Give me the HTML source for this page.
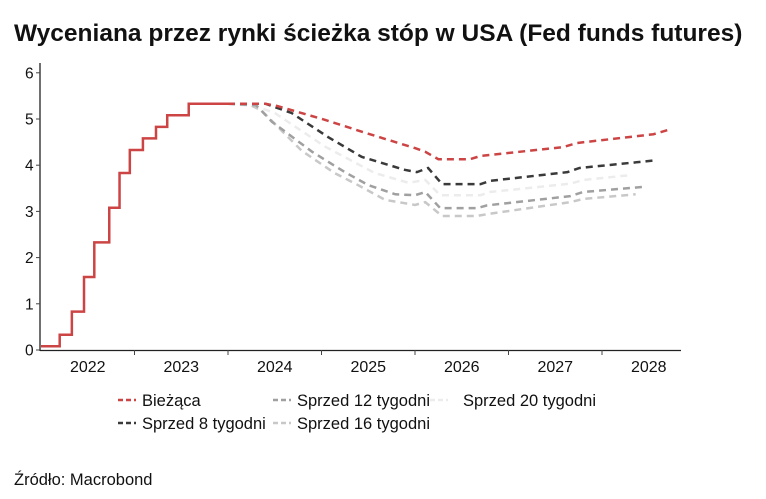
<!DOCTYPE html>
<html><head><meta charset="utf-8"><style>
body{margin:0;background:#fff;font-family:"Liberation Sans",sans-serif;}
#wrap{position:relative;width:766px;height:499px;overflow:hidden}
</style></head><body>
<div id="wrap">
<svg id="chart" width="766" height="499" xmlns="http://www.w3.org/2000/svg">
<text x="14" y="41" font-size="24.5" font-weight="bold" fill="#111" font-family="Liberation Sans, sans-serif">Wyceniana przez rynki ścieżka stóp w USA (Fed funds futures)</text>
<text x="14" y="485" font-size="16.5" fill="#111" font-family="Liberation Sans, sans-serif">Źródło: Macrobond</text>
<g id="axes"></g><g id="series"></g><g id="legend"></g>
</svg>
</div>
<script>
const yTicks=[0,1,2,3,4,5,6];
const yearLabels=["2022","2023","2024","2025","2026","2027","2028"];
const currT=[2022.0,2022.2,2022.33,2022.46,2022.57,2022.73,2022.84,2022.95,2023.09,2023.23,2023.35,2023.58,2024.0];
const currV=[0.08,0.33,0.83,1.58,2.33,3.08,3.83,4.33,4.58,4.83,5.08,5.33,5.33];
const redT=[2024.0,2024.4,2024.53,2025.04,2025.47,2026.0,2026.11,2026.25,2026.59,2026.7,2027.58,2027.73,2028.55,2028.7];
const redV=[5.33,5.33,5.28,4.98,4.7,4.37,4.29,4.13,4.13,4.2,4.39,4.48,4.67,4.76];
const w8T=[2024.0,2024.4,2024.68,2025.07,2025.43,2025.89,2026.02,2026.14,2026.29,2026.7,2026.8,2027.63,2027.76,2028.55];
const w8V=[5.33,5.33,5.13,4.61,4.18,3.9,3.85,3.94,3.59,3.59,3.66,3.85,3.94,4.1];
const w12T=[2024.0,2024.3,2024.47,2024.9,2025.25,2025.5,2025.79,2026.0,2026.11,2026.27,2026.66,2026.77,2027.66,2027.8,2028.44];
const w12V=[5.33,5.3,4.94,4.29,3.85,3.57,3.37,3.35,3.42,3.07,3.07,3.13,3.33,3.42,3.53];
const w16T=[2024.0,2024.24,2024.36,2024.79,2025.14,2025.39,2025.68,2026.0,2026.11,2026.29,2026.66,2026.8,2027.66,2027.8,2028.36];
const w16V=[5.33,5.3,5.18,4.31,3.83,3.57,3.25,3.14,3.2,2.9,2.9,2.95,3.2,3.27,3.37];
const w20T=[2024.0,2024.29,2024.5,2025.04,2025.57,2025.93,2026.11,2026.27,2026.7,2026.8,2027.66,2027.8,2028.28];
const w20V=[5.33,5.28,5.13,4.4,3.83,3.62,3.68,3.35,3.35,3.42,3.6,3.68,3.78];

const NS="http://www.w3.org/2000/svg";
const X0=41,PX=93.5,Y0=350,PY=46.2;
function xs(t){return X0+(t-2022)*PX;}
function ys(v){return Y0-v*PY;}
function mk(tag,attrs,parent){const e=document.createElementNS(NS,tag);for(const k in attrs)e.setAttribute(k,attrs[k]);parent.appendChild(e);return e;}
const axes=document.getElementById('axes');
let a=mk('line',{x1:40,y1:63,x2:40,y2:351,stroke:'#222','stroke-width':1.3},axes);


a=mk('line',{x1:40,y1:350.5,x2:681,y2:350.5,stroke:'#222','stroke-width':1.3},axes);


yTicks.forEach(v=>{
  const tk=mk('line',{x1:36,x2:40,y1:ys(v),y2:ys(v),stroke:'#444'},axes);
  
  
  const tx=mk('text',{x:25,y:ys(v)+5.5,'font-size':15.5,fill:'#111','font-family':'Liberation Sans, sans-serif'},axes);
  tx.textContent=v;
  
  
});
yearLabels.forEach((l,i)=>{
  const y=2022+i;
  if(i>0){const tk=mk('line',{x1:xs(y),x2:xs(y),y1:350,y2:355,stroke:'#444'},axes);
  
  }
  const tx=mk('text',{x:xs(y+0.5),y:372,'font-size':16,fill:'#111','text-anchor':'middle','font-family':'Liberation Sans, sans-serif'},axes);
  tx.textContent=l;
  
  
});
const ser=document.getElementById('series');
function line(T,V,color,dash,name,step){
  let d='';
  T.forEach((t,i)=>{
    if(i==0)d+='M'+xs(t)+','+ys(V[i]);
    else if(step)d+='L'+xs(t)+','+ys(V[i-1])+'L'+xs(t)+','+ys(V[i]);
    else d+='L'+xs(t)+','+ys(V[i]);
  });
  const p=mk('path',{d:d,fill:'none',stroke:color,'stroke-width':2.5},ser);
  if(dash)p.setAttribute('stroke-dasharray','7,5');
  
  
}
line(w20T,w20V,'#ececec',true,'series-20-weeks');
line(w16T,w16V,'#c8c8c8',true,'series-16-weeks');
line(w12T,w12V,'#a0a0a0',true,'series-12-weeks');
line(w8T,w8V,'#3a3a3a',true,'series-8-weeks');
line(redT,redV,'#cc4444',true,'series-current-forecast');
line(currT,currV,'#cc4444',false,'series-current-actual',true);
const leg=document.getElementById('legend');
const items=[['Bieżąca','#cc4444',118,406],['Sprzed 12 tygodni','#a0a0a0',273,406],['Sprzed 20 tygodni','#ececec',430,406],['Sprzed 8 tygodni','#3a3a3a',118,429],['Sprzed 16 tygodni','#c8c8c8',273,429]];
items.forEach(it=>{
  const g=mk('g',{},leg);
  
  
  mk('line',{x1:it[2],x2:it[2]+18,y1:it[3]-6,y2:it[3]-6,stroke:it[1],'stroke-width':2.5,'stroke-dasharray':'5,3'},g);
  const tx=mk('text',{x:it[2]+24+(it[0]=='Sprzed 20 tygodni'?9:0),y:it[3],'font-size':16.5,fill:'#111','font-family':'Liberation Sans, sans-serif'},g);
  tx.textContent=it[0];
});
</script>
</body></html>
